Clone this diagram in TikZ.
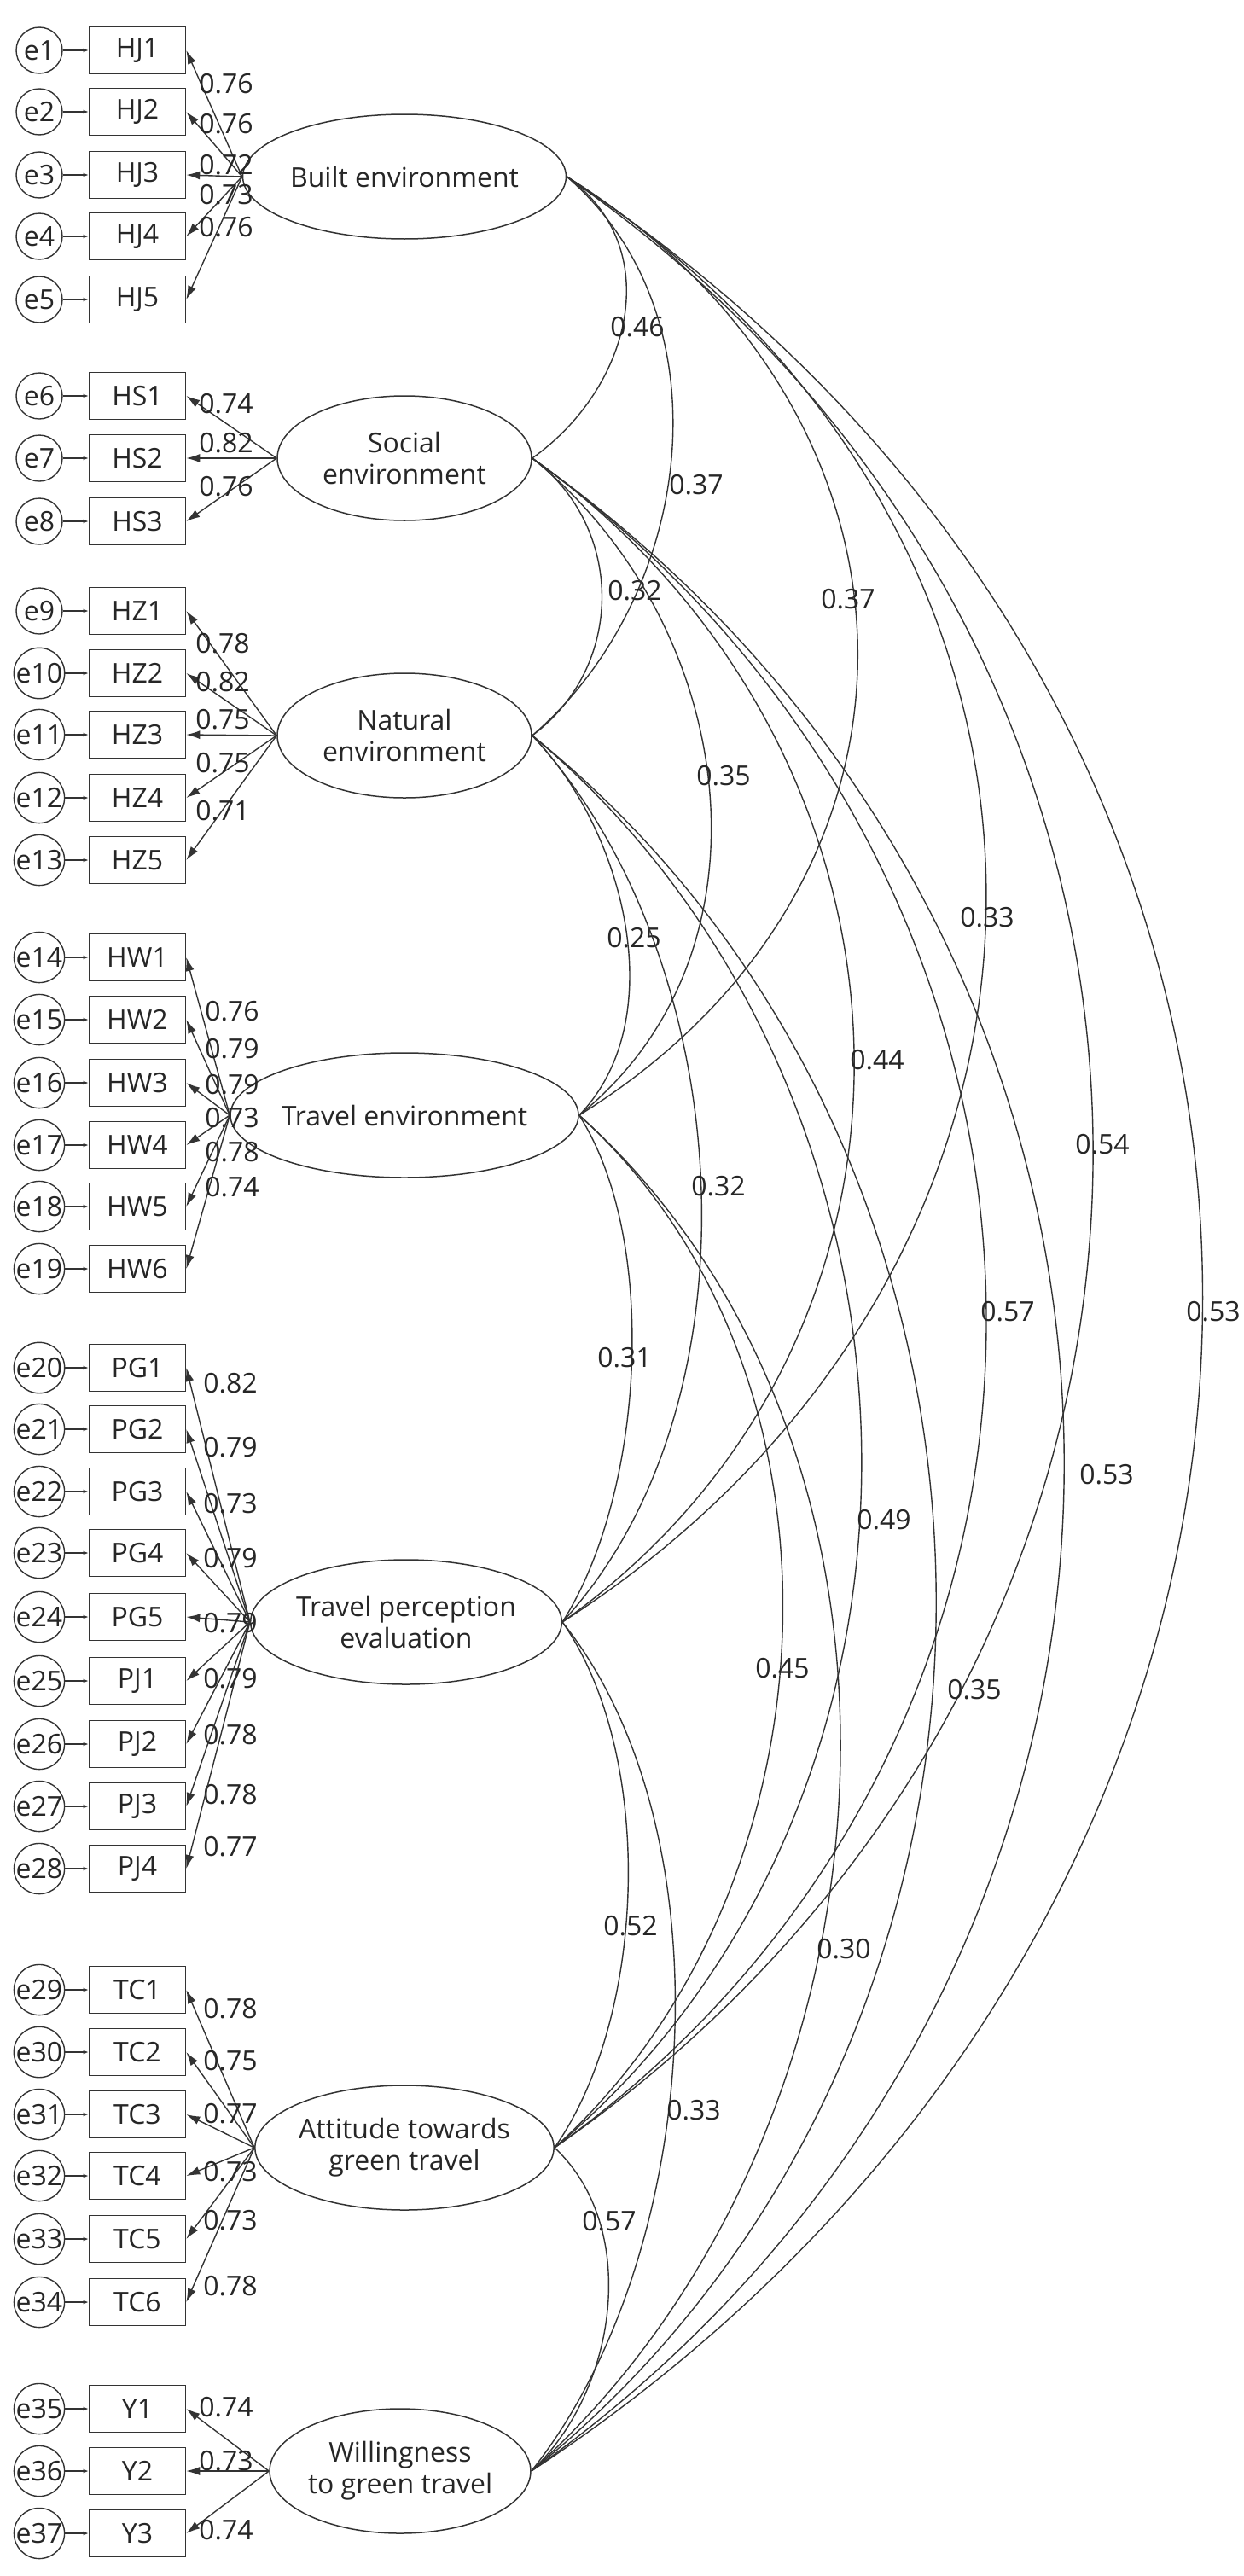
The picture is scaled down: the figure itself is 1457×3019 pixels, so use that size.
\documentclass[tikz,border=0pt]{standalone}
\usepackage{fontspec}
\setmainfont{Open Sans}
\usetikzlibrary{arrows.meta,shapes.geometric}
\begin{document}
\begin{tikzpicture}[x=1pt,y=-1pt,
  every node/.style={font=\fontsize{32}{37}\selectfont, text=black!85},
  err/.style={circle,draw=black!80,line width=1.4pt,minimum size=54pt,inner sep=0pt},
  ind/.style={rectangle,draw=black!80,line width=1.6pt,minimum width=113pt,minimum height=55pt,inner sep=0pt},
  lat/.style={ellipse,draw=black!80,line width=1.5pt,minimum width=298pt,minimum height=146pt,inner sep=0pt,align=center},
  erra/.style={draw=black!80,line width=1.3pt,-{Latex[length=6pt,width=5pt]}},
  load/.style={draw=black!80,line width=1.4pt,-{Latex[length=16pt,width=10pt]}},
  cor/.style={draw=black!80,line width=1.4pt},
  lbl/.style={inner sep=0pt}]
\useasboundingbox[fill=white] (0,0) rectangle (1457,3019);

% latent variables
\node[lat] (B) at (474,207) {Built environment};
\node[lat] (S) at (474,537) {Social\\environment};
\node[lat] (N) at (474,862) {Natural\\environment};
\node[lat] (T) at (474,1307) {Travel environment};
\node[lat] (P) at (476,1901) {Travel perception\\evaluation};
\node[lat] (A) at (474,2517) {Attitude towards\\green travel};
\node[lat] (W) at (469,2896) {Willingness\\to green travel};

% indicators
\foreach \nm/\e/\y/\lt/\val/\ly/\lx in {
  HJ1/1/59/B/0.76/98/265, HJ2/2/131/B/0.76/145/265, HJ3/3/205/B/0.72/193/265, HJ4/4/277/B/0.73/228/265, HJ5/5/351/B/0.76/266/265,
  HS1/6/464/S/0.74/473/265, HS2/7/537/S/0.82/519/265, HS3/8/611/S/0.76/570/265,
  HZ1/9/716/N/0.78/754/261, HZ2/10/789/N/0.82/799/261, HZ3/11/861/N/0.75/843/261, HZ4/12/935/N/0.75/894/261, HZ5/13/1008/N/0.71/950/261,
  HW1/14/1122/T/0.76/1185/272, HW2/15/1195/T/0.79/1229/272, HW3/16/1269/T/0.79/1271/272, HW4/17/1342/T/0.73/1310/272, HW5/18/1414/T/0.78/1350/272, HW6/19/1487/T/0.74/1391/272,
  PG1/20/1603/P/0.82/1621/270, PG2/21/1675/P/0.79/1696/270, PG3/22/1748/P/0.73/1762/270, PG4/23/1820/P/0.79/1826/270, PG5/24/1895/P/0.79/1902/270,
  PJ1/25/1970/P/0.79/1967/270, PJ2/26/2044/P/0.78/2033/270, PJ3/27/2117/P/0.78/2103/270, PJ4/28/2190/P/0.77/2164/270,
  TC1/29/2332/A/0.78/2354/270, TC2/30/2405/A/0.75/2415/270, TC3/31/2478/A/0.77/2477/270, TC4/32/2550/A/0.73/2545/270, TC5/33/2624/A/0.73/2602/270, TC6/34/2698/A/0.78/2679/270,
  Y1/35/2823/W/0.74/2821/265, Y2/36/2896/W/0.73/2884/265, Y3/37/2969/W/0.74/2965/265}
{
  \node[err] (e\e) at (46,\y) {e\e};
  \node[ind] (\nm) at (161,\y) {\nm};
  \draw[erra] (e\e) -- (\nm);
  \draw[load] (\lt.west) -- (\nm.east);
  \node[lbl] at (\lx,\ly) {\val};
}

% correlations
\foreach \a/\b/\c/\d/\val/\lx/\ly in {
  B/S/117/83/0.46/747/383, B/N/191/164/0.37/816/568, S/N/109/81/0.32/744/692,
  B/T/445/276/0.37/994/702, S/T/240/193/0.35/848/909, N/T/109/112/0.25/743/1099,
  B/P/659/424/0.33/1157/1075, S/P/479/341/0.44/1028/1242, N/P/240/260/0.32/842/1390, T/P/95/148/0.31/732/1591,
  B/A/832/578/0.54/1292/1341, S/A/692/496/0.57/1181/1537, N/A/497/415/0.49/1036/1781, T/A/337/303/0.45/917/1955, P/A/109/155/0.52/739/2257,
  B/W/1021/672/0.53/1422/1537, S/W/832/590/0.53/1297/1728, N/W/632/509/0.35/1142/1980, T/W/444/397/0.30/989/2284, P/W/199/249/0.33/813/2473, A/W/101/94/0.57/714/2603}
{
  \draw[cor] (\a.east) .. controls +(\c,\d) and +(\c,-\d) .. (\b.east);
  \node[lbl] at (\lx,\ly) {\val};
}
\end{tikzpicture}
\end{document}
